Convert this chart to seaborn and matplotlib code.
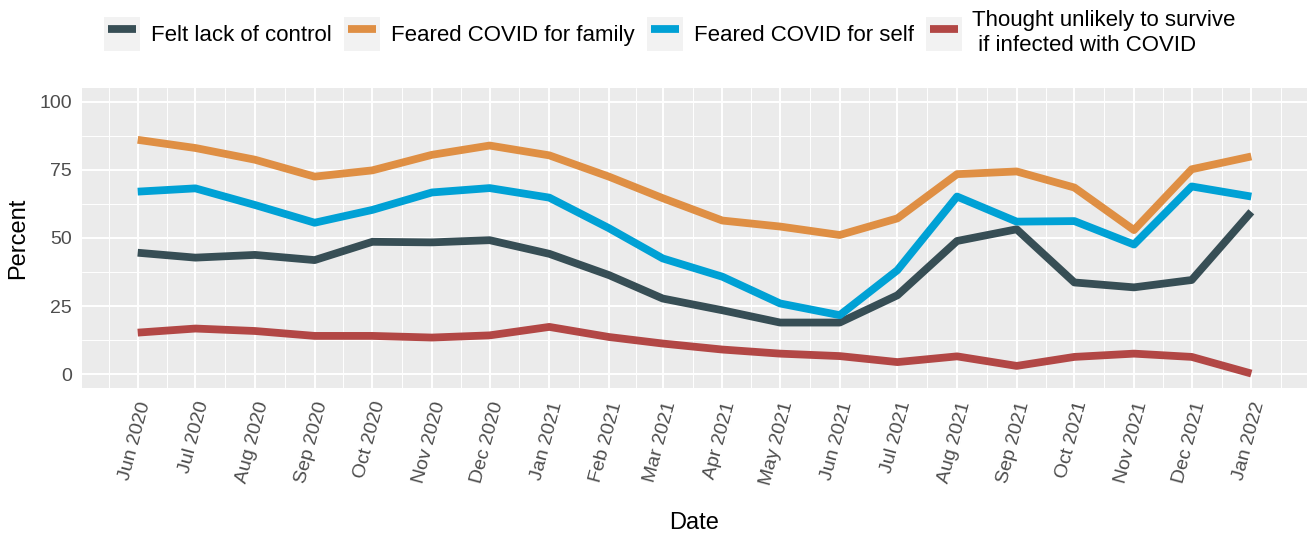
import numpy as np
import pandas as pd
import matplotlib
matplotlib.use("Agg")
import matplotlib.pyplot as plt
import matplotlib.dates as mdates
from matplotlib.patches import Rectangle
from matplotlib.lines import Line2D
from matplotlib.legend_handler import HandlerTuple, HandlerLine2D
import seaborn as sns

# ---- data ----
months = pd.date_range("2020-06-01", "2022-01-01", freq="MS")
series_names = [
    "Felt lack of control",
    "Feared COVID for family",
    "Feared COVID for self",
    "Thought unlikely to survive\n if infected with COVID",
]
lack_control = [44.6, 42.8, 43.8, 41.9, 48.6, 48.4, 49.2, 44.2, 36.4, 27.8,
                23.5, 19.0, 19.0, 29.0, 48.9, 53.2, 33.7, 31.9, 34.6, 59.6]
fear_family = [86.0, 83.0, 78.7, 72.5, 74.8, 80.5, 83.9, 80.3, 72.5, 64.6,
               56.4, 54.2, 51.1, 57.2, 73.4, 74.4, 68.5, 52.9, 75.2, 79.9]
fear_self = [67.0, 68.2, 62.1, 55.6, 60.3, 66.7, 68.3, 64.8, 53.6, 42.5,
             35.8, 26.0, 21.7, 38.2, 65.2, 56.0, 56.2, 47.6, 68.9, 65.2]
unlikely_survive = [15.3, 16.8, 15.9, 14.1, 14.1, 13.5, 14.3, 17.4, 13.7, 11.3,
                    9.1, 7.6, 6.7, 4.5, 6.6, 3.1, 6.4, 7.6, 6.4, 0.3]
colors = ["#374E55", "#DF8F44", "#00A1D5", "#B24745"]
y_ticks = [0, 25, 50, 75, 100]

df = pd.DataFrame({
    "Date": np.tile(months, 4),
    "Percent": lack_control + fear_family + fear_self + unlikely_survive,
    "Series": np.repeat(series_names, len(months)),
})

# ---- figure ----
sns.set_theme(style="darkgrid")
plt.rcParams["font.family"] = ["Liberation Sans", "DejaVu Sans"]

W, H = 1311, 538
fig = plt.figure(figsize=(W / 100, H / 100), dpi=100)
ax = fig.add_axes([82 / W, 1 - 388 / H, (1307 - 82) / W, (388 - 88) / H])
ax.set_facecolor("#EBEBEB")

sns.lineplot(data=df, x="Date", y="Percent", hue="Series", hue_order=series_names,
             palette=colors, linewidth=5.6, ax=ax, legend=False)
for ln in ax.get_lines():
    ln.set_solid_capstyle("butt")
    ln.set_solid_joinstyle("round")

# x axis
xnum = mdates.date2num(months)
span = xnum[-1] - xnum[0]
ax.set_xlim(xnum[0] - 0.05 * span, xnum[-1] + 0.05 * span)
ax.set_xticks(xnum)
ax.set_xticklabels([d.strftime("%b %Y") for d in months])
mids = list((xnum[:-1] + xnum[1:]) / 2)
step0 = (xnum[1] - xnum[0]) / 2
stepn = (xnum[-1] - xnum[-2]) / 2
ax.set_xticks([xnum[0] - step0] + mids + [xnum[-1] + stepn], minor=True)

# y axis
ax.set_ylim(-5, 105)
ax.set_yticks(y_ticks)
ax.set_yticks([12.5, 37.5, 62.5, 87.5], minor=True)

ax.grid(which="major", color="white", linewidth=1.4)
ax.grid(which="minor", color="white", linewidth=0.7)
ax.set_axisbelow(True)
for s in ax.spines.values():
    s.set_visible(False)

ax.tick_params(axis="both", which="major", length=4.3, width=1.1, color="#333333",
               labelcolor="#4D4D4D", labelsize=14)
ax.tick_params(axis="y", which="major", pad=3)
ax.tick_params(axis="x", which="major", pad=4)
ax.tick_params(which="minor", length=0)
for lab in ax.get_xticklabels():
    lab.set_rotation(75)
    lab.set_ha("right")
    lab.set_va("top")
    lab.set_rotation_mode("anchor")

ax.set_xlabel("Date", fontsize=17, color="black")
ax.set_ylabel("Percent", fontsize=17, color="black")
ax.xaxis.set_label_coords(694 / (1307 - 82) - 82 / (1307 - 82), -(523 - 388) / (388 - 88))
ax.xaxis.label.set_va("center")
ax.yaxis.set_label_coords(-(82 - 18) / (1307 - 82), 0.5)
ax.yaxis.label.set_va("center")

# legend
handles = [
    (Rectangle((0, 0), 1, 1, facecolor="#F2F2F2", edgecolor="none"),
     Line2D([], [], color=c, linewidth=5.6, solid_capstyle="butt"))
    for c in colors
]
fs = 16
fpx = fs * 100 / 72
leg = fig.legend(handles, series_names,
                 handler_map={tuple: HandlerTuple(ndivide=1, pad=0),
                              Line2D: HandlerLine2D(numpoints=2, marker_pad=4 / fpx)},
                 ncol=4, loc="center", bbox_to_anchor=(670 / W, 1 - 33 / H),
                 frameon=False, fontsize=fs,
                 handlelength=36 / fpx, handleheight=45 / fpx,
                 handletextpad=11 / fpx, columnspacing=12 / fpx, borderpad=0)
for t in leg.get_texts():
    t.set_color("black")

fig.savefig("out.png", dpi=100)
